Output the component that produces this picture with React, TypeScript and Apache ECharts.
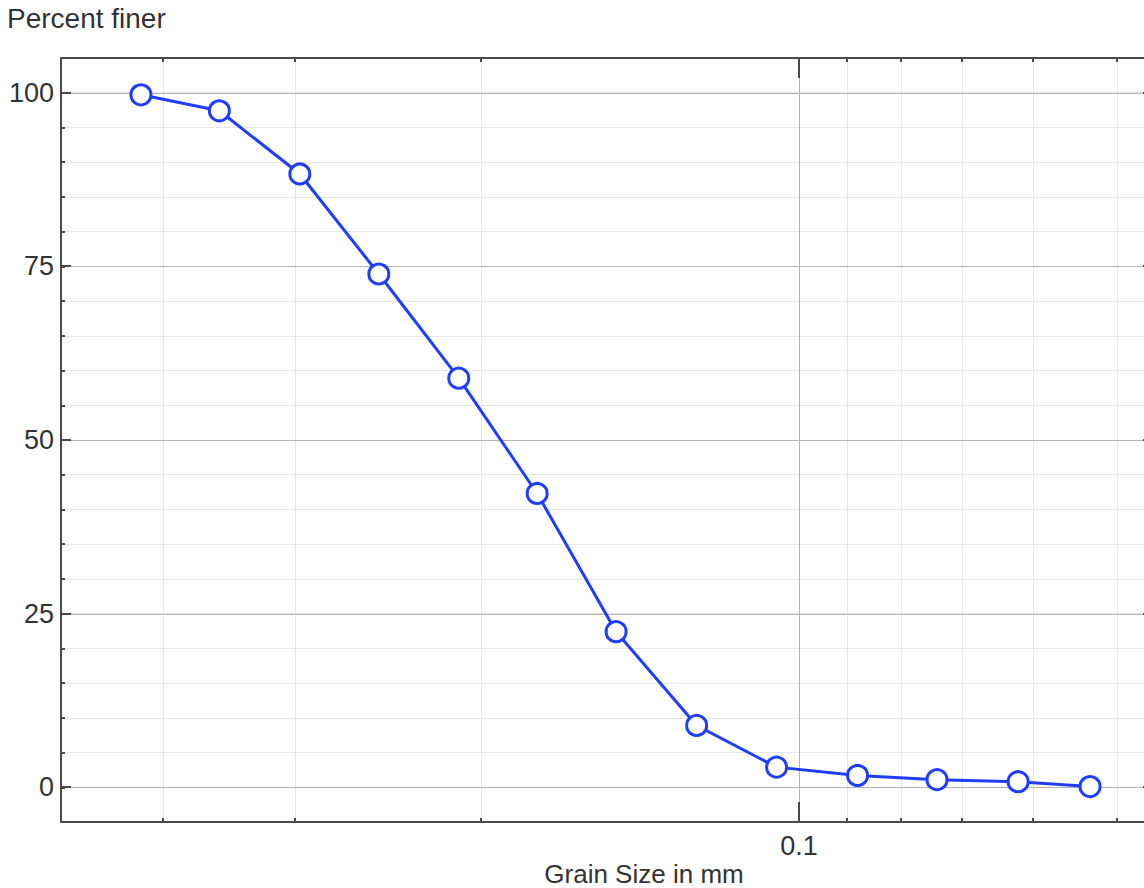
import { useEffect, useRef } from "react";
import * as echarts from "echarts";

// ---- data ----
const grainSizeMm = [0.42, 0.354, 0.297, 0.25, 0.21, 0.177, 0.149, 0.125, 0.105, 0.088, 0.074, 0.062, 0.053];
const percentFiner = [99.7, 97.4, 88.3, 73.9, 58.9, 42.3, 22.4, 8.9, 2.9, 1.7, 1.1, 0.8, 0.1];

// ---- axis settings ----
const xMin = 0.0462;
const xMax = 0.5;
const xLabelValues = [0.1];
const xMinorValues = [0.4, 0.3, 0.2, 0.09, 0.08, 0.07, 0.06, 0.05];
const yMin = -5;
const yMax = 105;
const yStep = 5;
const yMajorValues = [0, 25, 50, 75, 100];

const yTitle = "Percent finer";
const xTitle = "Grain Size in mm";

const FONT = "'Liberation Sans', Arial, Helvetica, sans-serif";
const TEXT = "#333333";
const AXIS = "#4a4a4a";
const MAJOR_GRID = "#b4b4b4";
const MINOR_GRID = "#e6e6e6";
const BLUE = "#1f3dff";
const FS = 27;

export default function App() {
  const ref = useRef<HTMLDivElement>(null);

  useEffect(() => {
    if (!ref.current) return;
    const chart = echarts.init(ref.current, undefined, { renderer: "svg" });

    const near = (a: number, b: number) => Math.abs(a - b) < 1e-6 * Math.max(1, Math.abs(b));

    const option: any = {
      animation: false,
      backgroundColor: "#ffffff",
      grid: { left: 61, top: 58, width: 1092, height: 764, outerBoundsMode: "none", containLabel: false },
      graphic: [
        {
          type: "text",
          x: 7,
          y: 18,
          style: { text: yTitle, fill: TEXT, font: `${FS + 1}px ${FONT}`, textAlign: "left", textVerticalAlign: "middle" },
        },
        {
          type: "text",
          x: 644,
          y: 874,
          style: { text: xTitle, fill: TEXT, font: `${FS - 1}px ${FONT}`, textAlign: "center", textVerticalAlign: "middle" },
        },
      ],
      xAxis: [
        {
          type: "log",
          logBase: 10,
          min: xMin,
          max: xMax,
          inverse: true,
          position: "bottom",
          axisLine: { show: true, onZero: false, lineStyle: { color: AXIS, width: 2 } },
          axisTick: { show: true, inside: true, length: 20, lineStyle: { color: AXIS, width: 2 } },
          axisLabel: {
            show: true,
            margin: 10,
            color: TEXT,
            fontSize: FS,
            fontFamily: FONT,
            formatter: (v: number) => (xLabelValues.some((t) => near(v, t)) ? String(xLabelValues.find((t) => near(v, t))) : ""),
          },
          splitLine: { show: true, lineStyle: { color: MAJOR_GRID, width: 1 } },
          minorTick: { show: false },
        },
        {
          type: "log",
          logBase: 10,
          min: xMin,
          max: xMax,
          inverse: true,
          position: "top",
          axisLine: { show: true, onZero: false, lineStyle: { color: AXIS, width: 2 } },
          axisTick: { show: true, inside: true, length: 20, lineStyle: { color: AXIS, width: 2 } },
          axisLabel: { show: false },
          splitLine: { show: false },
        },
      ],
      yAxis: [
        {
          type: "value",
          min: yMin,
          max: yMax,
          interval: yStep,
          position: "left",
          axisLine: { show: true, onZero: false, lineStyle: { color: AXIS, width: 2 } },
          axisTick: { show: true, inside: true, length: 4, lineStyle: { color: AXIS, width: 2 } },
          axisLabel: {
            show: true,
            margin: 7,
            color: TEXT,
            fontSize: FS,
            fontFamily: FONT,
            formatter: (v: number) => {
              const r = Math.round(v);
              return yMajorValues.includes(r) && near(v, r) ? String(r) : "";
            },
          },
          splitLine: { show: true, lineStyle: { color: MINOR_GRID, width: 1 } },
        },
        {
          type: "value",
          min: yMin,
          max: yMax,
          interval: yStep,
          position: "right",
          axisLine: { show: true, onZero: false, lineStyle: { color: AXIS, width: 2 } },
          axisTick: { show: true, inside: true, length: 4, lineStyle: { color: AXIS, width: 2 } },
          axisLabel: { show: false },
          splitLine: { show: false },
        },
      ],
      series: [
        {
          type: "custom",
          xAxisIndex: 0,
          yAxisIndex: 0,
          z: 1,
          silent: true,
          clip: false,
          data: [[0.1, 50]],
          renderItem: (params: any, api: any) => {
            const cs = params.coordSys;
            const top = cs.y;
            const bottom = cs.y + cs.height;
            const left = cs.x;
            const right = cs.x + cs.width;
            const children: any[] = [];
            // minor vertical grid lines
            xMinorValues.forEach((xv) => {
              const px = Math.round(api.coord([xv, yMin])[0]) + 0.5;
              children.push({
                type: "line",
                shape: { x1: px, y1: top + 1, x2: px, y2: bottom - 1 },
                style: { stroke: MINOR_GRID, lineWidth: 1 },
              });
            });
            // major horizontal grid lines
            yMajorValues.forEach((yv) => {
              const py = Math.round(api.coord([xMax, yv])[1]) + 0.5;
              children.push({
                type: "line",
                shape: { x1: left + 1, y1: py, x2: right - 1, y2: py },
                style: { stroke: MAJOR_GRID, lineWidth: 1 },
              });
            });
            // minor x ticks (bottom and top)
            xMinorValues.forEach((xv) => {
              const px = Math.round(api.coord([xv, yMin])[0]);
              children.push({
                type: "line",
                shape: { x1: px, y1: bottom, x2: px, y2: bottom - 4 },
                style: { stroke: AXIS, lineWidth: 2 },
              });
              children.push({
                type: "line",
                shape: { x1: px, y1: top, x2: px, y2: top + 4 },
                style: { stroke: AXIS, lineWidth: 2 },
              });
            });
            // major y ticks (left and right)
            yMajorValues.forEach((yv) => {
              const py = Math.round(api.coord([xMax, yv])[1]);
              children.push({
                type: "line",
                shape: { x1: left, y1: py, x2: left + 10, y2: py },
                style: { stroke: AXIS, lineWidth: 2 },
              });
              children.push({
                type: "line",
                shape: { x1: right - 10, y1: py, x2: right, y2: py },
                style: { stroke: AXIS, lineWidth: 2 },
              });
            });
            return { type: "group", children };
          },
        },
        {
          type: "line",
          xAxisIndex: 0,
          yAxisIndex: 0,
          z: 3,
          data: grainSizeMm.map((x, i) => [x, percentFiner[i]]),
          symbol: "circle",
          symbolSize: 20,
          showSymbol: true,
          lineStyle: { color: BLUE, width: 3 },
          itemStyle: { color: "#ffffff", borderColor: BLUE, borderWidth: 3 },
          emphasis: { disabled: true },
        },
      ],
    };

    chart.setOption(option);
    return () => chart.dispose();
  }, []);

  return (
    <div
      ref={ref}
      style={{ position: "fixed", left: 0, top: 0, width: 1144, height: 888, background: "#fff" }}
    />
  );
}
